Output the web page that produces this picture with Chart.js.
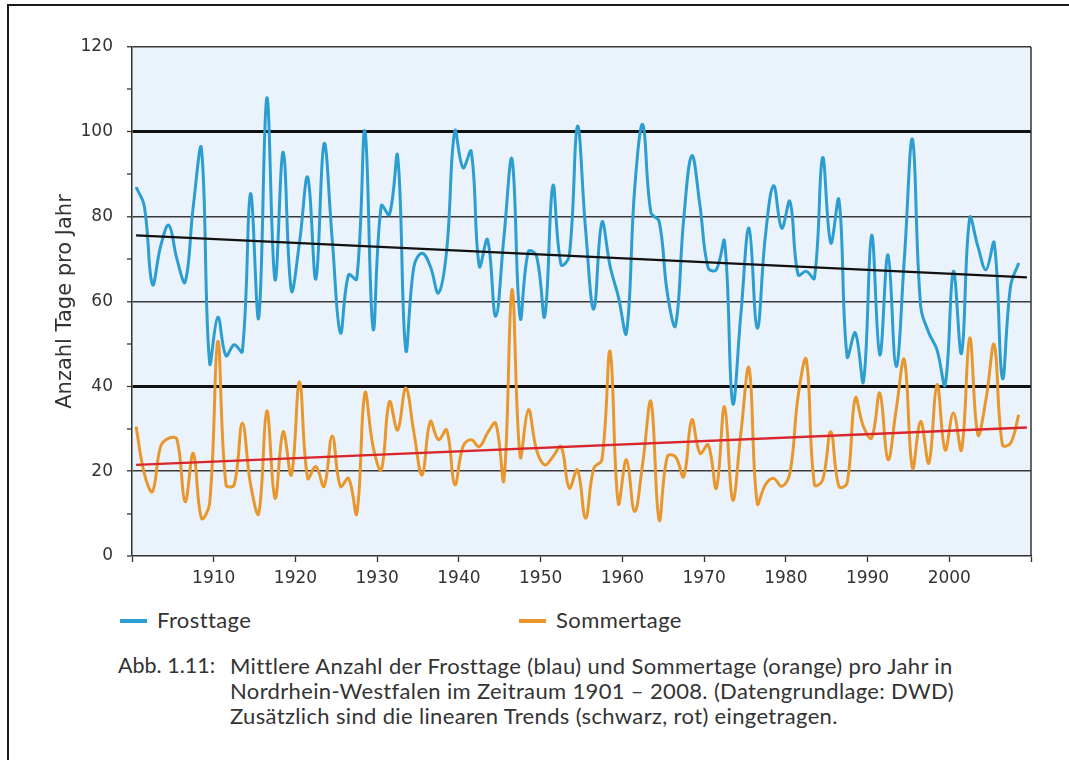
<!DOCTYPE html>
<html lang="de">
<head>
<meta charset="utf-8">
<title>Frosttage und Sommertage NRW</title>
<script src="https://cdn.jsdelivr.net/npm/chart.js@4.4.1/dist/chart.umd.min.js"></script>
<style>
  html, body { margin: 0; padding: 0; background: #fff; }
  body { width: 1069px; height: 760px; position: relative; overflow: hidden; }
  #rahmen {
    position: absolute; left: 7px; top: 4px; width: 1100px; height: 800px;
    border-left: 2px solid #1a1a1a; border-top: 2px solid #1a1a1a;
  }
  #diagramm { position: absolute; left: 0; top: 0; }
  .legende { position: absolute; top: 606px; font-family: Lato, sans-serif; font-size: 22px; letter-spacing: 0.4px; color: #333; }
  .legende span.strich { display: inline-block; width: 27px; height: 4px; vertical-align: middle; margin-right: 10px; position: relative; top: -1px; }
  #abb { position: absolute; left: 118px; top: 653px; font-family: Lato, sans-serif; font-size: 21.5px; color: #333; line-height: 25px; }
  #abbtext { position: absolute; left: 230px; top: 653px; width: 820px; font-family: Lato, sans-serif; font-size: 22px; letter-spacing: 0.35px; color: #333; line-height: 25px; }
</style>
</head>
<body>
<div id="rahmen"></div>
<canvas id="diagramm" width="1069" height="600"></canvas>
<div class="legende" style="left:120px"><span class="strich" style="background:#2C9DD1"></span>Frosttage</div>
<div class="legende" style="left:519px"><span class="strich" style="background:#E9972C"></span>Sommertage</div>
<div id="abb">Abb. 1.11:</div>
<div id="abbtext">Mittlere Anzahl der Frosttage (blau) und Sommertage (orange) pro Jahr in<br>Nordrhein-Westfalen im Zeitraum 1901 – 2008. (Datengrundlage: DWD)<br>Zusätzlich sind die linearen Trends (schwarz, rot) eingetragen.</div>
<script>
// Jahre 1901 ... 2009
const startJahr = 1901;

const frosttage = [
  87, 82.5, 64, 73, 78, 70, 64.6, 82.5, 96, 45.5,          // 1901-1910
  56.3, 47.2, 49.8, 48.2, 85.4, 56.1, 108, 65.1, 95.2, 62.6, // 1911-1920
  74, 89.3, 65.3, 97.2, 74.6, 52.6, 66.3, 65.3, 100.2, 53.5, // 1921-1930
  82.6, 80.5, 94.3, 48.6, 68.3, 71.4, 68.3, 62, 72, 100.2,   // 1931-1940
  91.5, 95.4, 68.3, 74.6, 56.5, 75, 93.5, 56.1, 71.8, 70.7,  // 1941-1950
  56.5, 87.3, 68.7, 70.7, 101.3, 77, 58.2, 78.7, 68.3, 61.2, // 1951-1960
  52.6, 86.4, 101.7, 80.9, 78.9, 62, 54.3, 79.3, 94.4, 82.5, // 1961-1970
  67.9, 67.5, 74.2, 36, 57, 77.3, 53.7, 75.4, 87.3, 77.3,    // 1971-1980
  83.6, 66.3, 67.1, 65.5, 93.9, 73.8, 84, 47, 52.6, 41.1,    // 1981-1990
  75.6, 47.4, 71, 44.7, 70, 98.2, 58.9, 52.6, 48.6, 40.4,    // 1991-2000
  67.1, 47.8, 79.7, 73, 67.5, 73.8, 41.9, 63.6, 69.1         // 2001-2009
];

const sommertage = [
  30.5, 19.5, 15.2, 25.8, 27.8, 27.5, 12.8, 24.2, 8.9, 12.4, // 1901-1910
  50.6, 16.8, 16.8, 31.3, 17, 10, 34.2, 13.6, 29.3, 19.1,    // 1911-1920
  41.1, 18.3, 21.1, 16.4, 28.3, 16.4, 18.3, 10, 38.4, 25.8,  // 1921-1930
  20.3, 36.4, 29.7, 39.6, 29, 19.1, 31.7, 27.4, 29.7, 16.8,  // 1931-1940
  25.8, 27.4, 25.8, 29, 31.3, 17.9, 62.8, 23.4, 34.5, 25,    // 1941-1950
  21.5, 23.4, 25.8, 16, 20.3, 8.9, 20.7, 22.7, 48.2, 12.4,   // 1951-1960
  22.7, 10.5, 22, 36.4, 8.5, 23.4, 23.4, 18.7, 32.1, 24.2,   // 1961-1970
  26.2, 16, 35.2, 13.2, 29, 44.3, 12.4, 16.8, 18.3, 16.4,    // 1971-1980
  19.5, 37.6, 46.3, 16.8, 17.9, 29.3, 16.4, 17.2, 37.2, 30.5, // 1981-1990
  27.8, 38.4, 22.7, 34.5, 46.3, 20.7, 31.7, 21.9, 40.4, 25,  // 1991-2000
  33.7, 25, 51.4, 28.6, 37, 49.8, 26.2, 26.6, 33.3           // 2001-2009
];

// lineare Trends: Anfangs- und Endwert
const trendJahre = [1901, 2010];
const frostTrend = [75.6, 65.7];
const sommerTrend = [21.5, 30.3];

const xTicks = [1910, 1920, 1930, 1940, 1950, 1960, 1970, 1980, 1990, 2000];

// Punkte liegen jeweils in der Mitte des Jahresintervalls
const jahre = frosttage.map((_, i) => startJahr + i);
const alsPunkte = (js, werte) => werte.map((v, i) => ({ x: js[i] - 0.5, y: v }));

const plotHintergrund = {
  id: 'plotHintergrund',
  beforeDraw(chart) {
    const { ctx, chartArea: a } = chart;
    ctx.save();
    ctx.fillStyle = '#EAF3FB';
    ctx.fillRect(a.left, a.top, a.width, a.height);
    ctx.restore();
  },
  afterDatasetsDraw(chart) {
    const { ctx, chartArea: a } = chart;
    ctx.save();
    ctx.strokeStyle = '#333';
    ctx.lineWidth = 1.5;
    ctx.beginPath();
    ctx.moveTo(a.right, a.top);
    ctx.lineTo(a.right, a.bottom);
    ctx.stroke();
    ctx.restore();
  }
};

Chart.defaults.font.family = '"DejaVu Sans", sans-serif';
Chart.defaults.color = '#333';

new Chart(document.getElementById('diagramm'), {
  type: 'line',
  data: {
    datasets: [
      {
        label: 'Trend Frosttage',
        data: alsPunkte(trendJahre, frostTrend),
        borderColor: '#111',
        borderWidth: 2.3,
        pointRadius: 0,
        tension: 0
      },
      {
        label: 'Trend Sommertage',
        data: alsPunkte(trendJahre, sommerTrend),
        borderColor: '#D9262A',
        borderWidth: 2.3,
        pointRadius: 0,
        tension: 0
      },
      {
        label: 'Frosttage',
        data: alsPunkte(jahre, frosttage),
        borderColor: '#2C9DD1',
        borderWidth: 3,
        pointRadius: 0,
        tension: 0.4
      },
      {
        label: 'Sommertage',
        data: alsPunkte(jahre, sommertage),
        borderColor: '#E9972C',
        borderWidth: 3,
        pointRadius: 0,
        tension: 0.4
      }
    ]
  },
  options: {
    responsive: false,
    animation: false,
    layout: { padding: { left: 50, right: 38, top: 47, bottom: 0 } },
    plugins: {
      legend: { display: false },
      tooltip: { enabled: false }
    },
    scales: {
      x: {
        type: 'linear',
        min: 1900,
        max: 2010,
        afterFit: (s) => { s.height = 44; },
        afterBuildTicks: (s) => {
          s.ticks = [1900].concat(xTicks, [2010]).map(v => ({ value: v }));
        },
        ticks: {
          font: { size: 17 },
          padding: 6,
          maxRotation: 0,
          autoSkip: false,
          callback: (v) => xTicks.includes(v) ? String(v) : ''
        },
        grid: {
          drawOnChartArea: false,
          tickLength: 6,
          tickWidth: 1.3,
          tickColor: '#333'
        },
        border: { color: '#333', width: 1.5 }
      },
      y: {
        min: 0,
        max: 120,
        afterFit: (s) => { s.width = 82; },
        ticks: {
          stepSize: 10,
          font: { size: 17 },
          padding: 14,
          callback: (v) => v % 20 === 0 ? String(v) : ''
        },
        title: {
          display: true,
          text: 'Anzahl Tage pro Jahr',
          font: { size: 21 },
          padding: { top: 3, bottom: 4 }
        },
        grid: {
          lineWidth: (c) => {
            const v = c.tick.value;
            if (v === 40 || v === 100) return 3;
            if (v === 20 || v === 60 || v === 80) return 1.6;
            if (v === 120) return 1.5;
            return 0;
          },
          color: (c) => (c.tick.value === 40 || c.tick.value === 100) ? '#111' : '#3a3a3a',
          tickLength: 5,
          tickWidth: 1.3,
          tickColor: '#333'
        },
        border: { color: '#333', width: 1.5 }
      }
    }
  },
  plugins: [plotHintergrund]
});
</script>
</body>
</html>
